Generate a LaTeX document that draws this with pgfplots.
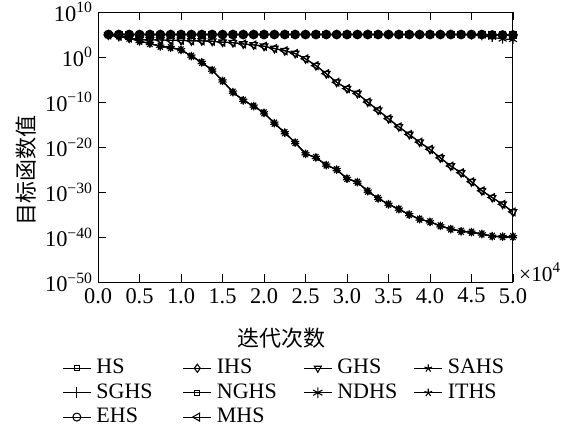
\documentclass[border=0pt]{standalone}
\usepackage{fontspec}
\setmainfont{Liberation Serif}
\newfontfamily\cjk{Noto Sans CJK SC}
\usepackage{pgfplots}
\pgfplotsset{compat=1.18}
\usepackage{pgfplotstable}

% x in units of 1e4 iterations
\pgfplotstableread{
x      flat    ndhs    fast      tri
0.125  1.0e5   1.0e5   1.0e5     7.9e4
0.250  1.0e5   1.0e5   5.0e4     4.0e4
0.375  1.0e5   1.0e5   1.6e4     1.6e4
0.500  1.0e5   1.0e5   3.2e3     7.9e3
0.625  1.0e5   1.0e5   1.0e3     6.3e3
0.750  1.0e5   1.0e5   2.5e2     6.3e3
0.875  1.0e5   1.0e5   1.26e2    5.0e3
1.000  1.0e5   1.0e5   40        5.0e3
1.125  1.0e5   1.0e5   1.6       4.0e3
1.250  1.0e5   1.0e5   6.3e-2    4.0e3
1.375  1.0e5   1.0e5   1.26e-3   3.2e3
1.500  1.0e5   1.0e5   5.0e-6    2.0e3
1.625  1.0e5   1.0e5   1.6e-8    1.6e3
1.750  1.0e5   1.0e5   2.5e-10   7.9e2
1.875  1.0e5   1.0e5   1.26e-11  5.0e2
2.000  1.0e5   1.0e5   4.0e-13   2.5e2
2.125  1.0e5   1.0e5   2.0e-15   79
2.250  1.0e5   1.0e5   1.6e-17   25
2.375  1.0e5   1.0e5   1.0e-19   6.3
2.500  1.0e5   1.0e5   3.2e-22   0.4
2.625  1.0e5   1.0e5   5.0e-23   1.26e-2
2.750  1.0e5   1.0e5   1.0e-24   2.0e-4
2.875  1.0e5   1.0e5   1.0e-25   2.5e-6
3.000  1.0e5   1.0e5   1.0e-27   1.0e-7
3.125  1.0e5   1.0e5   1.6e-28   7.9e-9
3.250  1.0e5   1.0e5   1.6e-30   1.0e-10
3.375  1.0e5   1.0e5   4.0e-32   1.6e-12
3.500  1.0e5   1.0e5   2.0e-33   2.0e-14
3.625  1.0e5   1.0e5   1.6e-34   3.2e-16
3.750  1.0e5   1.0e5   1.0e-35   6.3e-18
3.875  1.0e5   1.0e5   1.0e-36   1.26e-19
4.000  1.0e5   1.0e5   2.5e-37   3.2e-21
4.125  1.0e5   1.0e5   3.2e-38   4.0e-23
4.250  1.0e5   1.0e5   6.3e-39   6.3e-25
4.375  1.0e5   1.0e5   2.0e-39   2.0e-26
4.500  1.0e5   7.9e4   1.26e-39  2.0e-28
4.625  1.0e5   5.0e4   5.0e-40   2.0e-30
4.750  7.9e4   2.5e4   1.6e-40   6.3e-32
4.875  7.9e4   1.0e4   1.26e-40  2.0e-33
5.000  7.9e4   7.9e3   1.26e-40  4.0e-35
}\datatab

\begin{document}
\begin{tikzpicture}
\begin{axis}[
  at={(0,0)}, anchor=south west,
  scale only axis, width=311pt, height=202.5pt,
  ymode=log, xmin=0, xmax=5, ymin=1e-50, ymax=1e10,
  xtick={0,0.5,1,1.5,2,2.5,3,3.5,4,4.5,5},
  xticklabels={0.0,0.5,1.0,1.5,2.0,2.5,3.0,3.5,4.0,4.5,5.0},
  ytick={1e-50,1e-40,1e-30,1e-20,1e-10,1,1e10},
  yticklabels={10\textsuperscript{−50},10\textsuperscript{−40},10\textsuperscript{−30},10\textsuperscript{−20},10\textsuperscript{−10},10\textsuperscript{0},10\textsuperscript{10}},
  yminorticks=false, xminorticks=false,
  tick align=inside, major tick length=6pt,
  tick style={black, line width=0.6pt},
  axis line style={line width=0.75pt},
  ticklabel style={font=\fontsize{16.8}{19}\selectfont},
  xticklabel style={yshift=-1pt},
  yticklabel style={xshift=-0.5pt},
  xlabel={\cjk 迭代次数},
  xlabel style={at={(axis description cs:0.443,0)}, anchor=center, yshift=-42pt, font=\fontsize{16.5}{19}\selectfont},
  ylabel={\cjk 目标函数值},
  ylabel style={at={(axis description cs:-0.1736,0.4148)}, anchor=center, font=\fontsize{16.5}{19}\selectfont},
  legend columns=4,
  legend image code/.code={\draw[mark repeat=2,mark phase=2,#1] plot coordinates {(0pt,0pt) (10.5pt,0pt) (21pt,0pt)};},
  legend style={draw=none, fill=none, at={(axis description cs:-0.0964,-0.272)}, anchor=north west,
    column sep=3.75pt, row sep=3.8pt, font=\fontsize{16.5}{19}\selectfont,
    nodes={inner sep=0pt, text width=61pt, align=left, text height=11.5pt, text depth=3pt}},
  every axis plot/.append style={black, line width=0.85pt},
]
% triangle curves (GHS, MHS)
\addplot[mark=triangle, mark size=3.3pt, mark options={fill=white, rotate=180, solid}, forget plot] table[x=x,y=tri] {\datatab};
\addplot[mark=triangle, mark size=3.3pt, mark options={fill=white, rotate=90, solid}, forget plot] table[x=x,y=tri] {\datatab};
% fast curves (IHS, SAHS, ITHS)
\addplot[mark=diamond*, mark size=2.4pt, mark options={fill=black, solid}, forget plot] table[x=x,y=fast] {\datatab};
\addplot[mark=star, mark size=3.2pt, mark options={solid}, forget plot] table[x=x,y=fast] {\datatab};
\addplot[mark=star, mark size=3.2pt, mark options={rotate=36, solid}, forget plot] table[x=x,y=fast] {\datatab};
% flat curves (HS, SGHS, NGHS, NDHS, EHS)
\addplot[mark=square*, mark size=2.4pt, forget plot] table[x=x,y=flat] {\datatab};
\addplot[mark=+, mark size=3.2pt, forget plot] table[x=x,y=flat] {\datatab};
\addplot[mark=square*, mark size=2.2pt, forget plot] table[x=x,y=flat] {\datatab};
\addplot[mark=asterisk, mark size=3.4pt, forget plot] table[x=x,y=ndhs] {\datatab};
\addplot[mark=*, mark size=3.2pt, forget plot] table[x=x,y=flat] {\datatab};
% legend
\addlegendimage{black, line width=0.8pt, mark=square, mark size=1.8pt, mark options={fill=white}}
\addlegendentry{HS}
\addlegendimage{black, line width=0.8pt, mark=diamond, mark size=3pt, mark options={fill=white}}
\addlegendentry{IHS}
\addlegendimage{black, line width=0.8pt, mark=triangle, mark size=3pt, mark options={fill=white, rotate=180}}
\addlegendentry[text width=53.5pt]{GHS}
\addlegendimage{black, line width=0.8pt, mark=star, mark size=3pt, mark options={fill=white}}
\addlegendentry{SAHS}
\addlegendimage{black, line width=0.8pt, mark=+, mark size=4pt}
\addlegendentry{SGHS}
\addlegendimage{black, line width=0.8pt, mark=square, mark size=1.8pt, mark options={fill=white}}
\addlegendentry{NGHS}
\addlegendimage{black, line width=0.8pt, mark=asterisk, mark size=4pt}
\addlegendentry[text width=53.5pt]{NDHS}
\addlegendimage{black, line width=0.8pt, mark=star, mark size=3pt, mark options={fill=white}}
\addlegendentry{ITHS}
\addlegendimage{black, line width=0.8pt, mark=o, mark size=3pt, mark options={fill=white}}
\addlegendentry{EHS}
\addlegendimage{black, line width=0.8pt, mark=triangle, mark size=3.5pt, mark options={fill=white, rotate=90}}
\addlegendentry{MHS}
\end{axis}
\node[anchor=west, font=\fontsize{16}{18}\selectfont, inner sep=0pt] at (315.5pt,7.5pt) {×10\textsuperscript{4}};
\pgfresetboundingbox
\path[use as bounding box] (-73.5pt,-109.5pt) rectangle (352.25pt,211.5pt);
\end{tikzpicture}
\end{document}
